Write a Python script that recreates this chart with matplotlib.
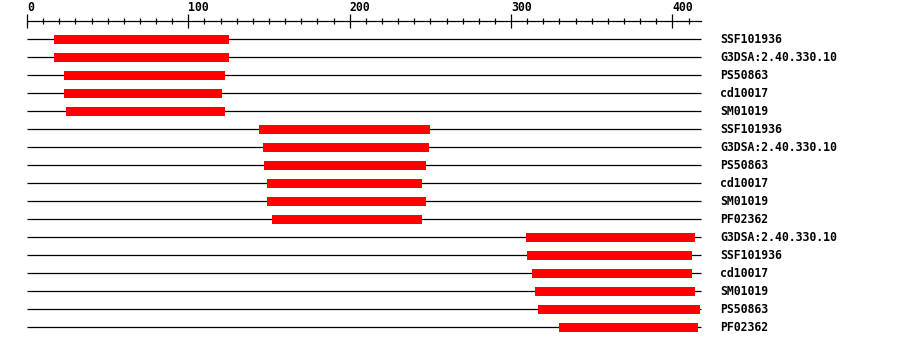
import matplotlib
matplotlib.use("Agg")
import matplotlib.pyplot as plt
import numpy as np

labels = ["SSF101936", "G3DSA:2.40.330.10", "PS50863", "cd10017", "SM01019",
          "SSF101936", "G3DSA:2.40.330.10", "PS50863", "cd10017", "SM01019", "PF02362",
          "G3DSA:2.40.330.10", "SSF101936", "cd10017", "SM01019", "PS50863", "PF02362"]
starts = [17, 17, 23, 23, 24, 144, 146, 147, 149, 149, 152, 309, 310, 313, 315, 317, 330]
ends = [125, 125, 123, 121, 123, 250, 249, 247, 245, 247, 245, 414, 412, 412, 414, 417, 416]
seq_len = 418

W, H = 900, 346
PX = 1.6135          # pixels per residue
X0 = 27.0            # pixel of residue 0
AXIS_Y = 21.3        # pixel row of ruler line
ROW0, ROW_STEP = 39.3, 18.0
BAR_H = 9

fig = plt.figure(figsize=(W / 100, H / 100), dpi=100)
ax = fig.add_axes([0, 0, 1, (H - AXIS_Y) / H])
ax.set_xlim(-X0 / PX, (W - X0) / PX)
ax.set_ylim(H, AXIS_Y)

font = dict(family="DejaVu Sans Mono", weight="bold", size=8.3)

ys = ROW0 + ROW_STEP * np.arange(len(labels))
for y, s, e, lab in zip(ys, starts, ends, labels):
    ax.plot([0, seq_len], [y, y], color="black", lw=0.9, solid_capstyle="butt", zorder=1)
    ax.barh(y, e - s, left=s, height=BAR_H, color="#ff0000", zorder=2)
    ax.text(429.5, y + 4, lab, ha="left", va="baseline", color="black", **font)

for sp in ["left", "right", "bottom"]:
    ax.spines[sp].set_visible(False)
ax.spines["top"].set_bounds(0, seq_len)
ax.spines["top"].set_linewidth(0.9)
ax.xaxis.set_ticks_position("top")
ax.set_xticks(np.arange(0, 401, 100))
ax.set_xticks(np.arange(0, 411, 10), minor=True)
ax.tick_params(axis="x", which="major", direction="inout", length=10, width=0.9, pad=0)
ax.tick_params(axis="x", which="minor", direction="inout", length=4.3, width=0.9)
ax.set_yticks([])
for t in ax.get_xticklabels():
    t.set_horizontalalignment("left")
    t.set_fontfamily("DejaVu Sans Mono")
    t.set_fontweight("bold")
    t.set_fontsize(8.3)

fig.savefig("out.png", dpi=100)
